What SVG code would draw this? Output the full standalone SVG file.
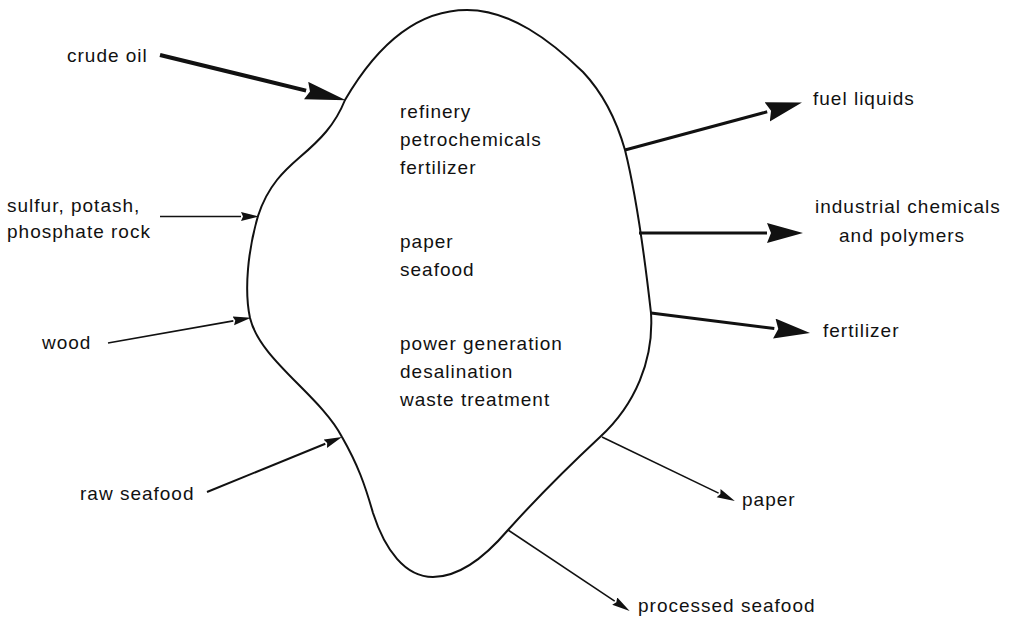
<svg xmlns="http://www.w3.org/2000/svg" width="1010" height="619" viewBox="0 0 1010 619">
<style>
text{font-family:"Liberation Sans",Arial,sans-serif;font-size:19px;letter-spacing:1px;fill:#111}
.c{stroke:#111;fill:none;stroke-linecap:butt}
.w1{stroke-width:1.6}
.w2{stroke-width:2}
.w3{stroke-width:3}
.w4{stroke-width:4}
</style>
<defs>
<marker id="hb" markerUnits="userSpaceOnUse" markerWidth="42" markerHeight="20" refX="0" refY="9" orient="auto"><path d="M0,0 L41,9 L0,18 L4,9 Z" fill="#111"/></marker>
<marker id="hm" markerUnits="userSpaceOnUse" markerWidth="37" markerHeight="22" refX="0" refY="10" orient="auto"><path d="M0,0 L36,10 L0,20 L4,10 Z" fill="#111"/></marker>
<marker id="hs" markerUnits="userSpaceOnUse" markerWidth="19" markerHeight="10" refX="0" refY="4.5" orient="auto"><path d="M0,0 L18,4.5 L0,9 L2,4.5 Z" fill="#111"/></marker>
</defs>
<g id="blob">
<path d="M345,100 C380,40 420,10 467,10 C510,10 550,40 583,72 C600,90 615,115 625,150 C635,190 645,260 651,313 C654,360 635,405 600,437 C570,465 535,500 508,530 C485,557 460,577 433,577 C405,577 385,550 373,513 C365,485 358,465 342,437 C320,395 260,360 250,318 C244,290 248,250 258,216 C268,185 285,170 300,157 C320,140 335,125 345,100 Z" fill="#fff" stroke="#111" stroke-width="2"/>
<text x="400" y="118">refinery</text>
<text x="400" y="146">petrochemicals</text>
<text x="400" y="174">fertilizer</text>
<text x="400" y="248">paper</text>
<text x="400" y="276">seafood</text>
<text x="400" y="350">power generation</text>
<text x="400" y="378">desalination</text>
<text x="400" y="406">waste treatment</text>
</g>
<g id="connectors">
<path class="c w4" d="M160,55 L306.1,90.6" marker-end="url(#hb)"/>
<path class="c w1" d="M160,216.5 L241,216.5" marker-end="url(#hs)"/>
<path class="c w1" d="M108,343 L233.3,320.9" marker-end="url(#hs)"/>
<path class="c w2" d="M207,492 L325.3,443.8" marker-end="url(#hs)"/>
<path class="c w3" d="M625,150 L767.2,111.8" marker-end="url(#hm)"/>
<path class="c w3" d="M639,233 L767,233" marker-end="url(#hm)"/>
<path class="c w3" d="M651,313 L774.3,328.5" marker-end="url(#hm)"/>
<path class="c w1" d="M602,437 L718.6,493.1" marker-end="url(#hs)"/>
<path class="c w1" d="M508,530 L614.7,601.1" marker-end="url(#hs)"/>
</g>
<g id="in-crude"><text x="67" y="62">crude oil</text></g>
<g id="in-sulfur"><text x="7" y="212">sulfur, potash,</text><text x="7" y="238">phosphate rock</text></g>
<g id="in-wood"><text x="42" y="349">wood</text></g>
<g id="in-seafood"><text x="80" y="500">raw seafood</text></g>
<g id="out-fuel"><text x="813" y="105">fuel liquids</text></g>
<g id="out-chem"><text x="815" y="213">industrial chemicals</text><text x="839" y="242">and polymers</text></g>
<g id="out-fert"><text x="823" y="337">fertilizer</text></g>
<g id="out-paper"><text x="742" y="506">paper</text></g>
<g id="out-proc"><text x="638" y="612">processed seafood</text></g>
</svg>
